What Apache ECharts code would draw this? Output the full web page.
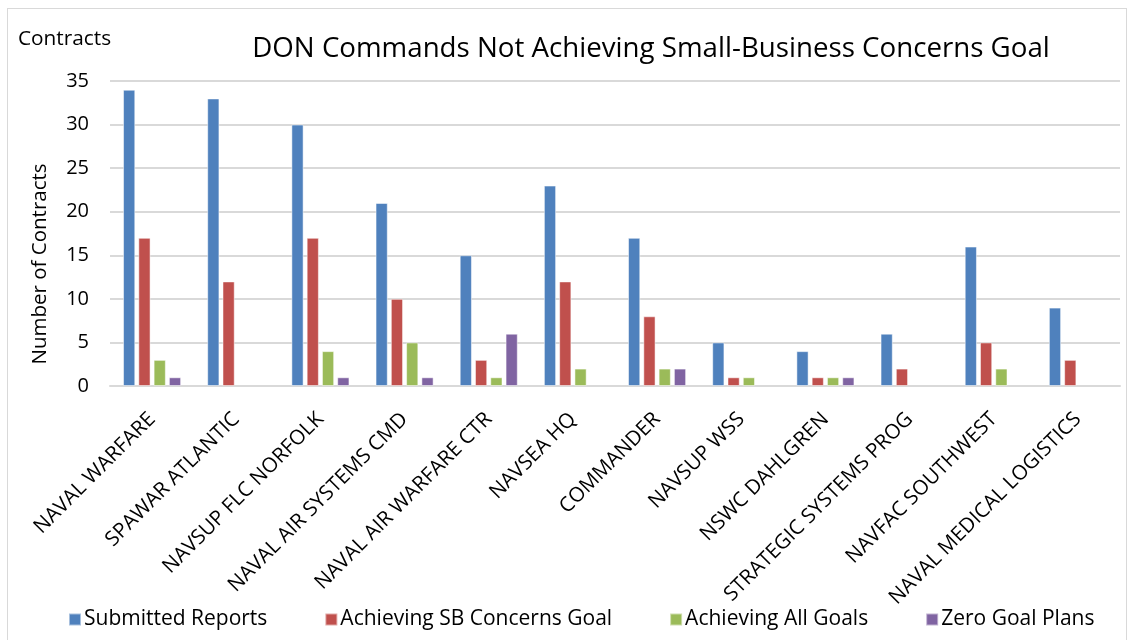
<!DOCTYPE html>
<html><head><meta charset="utf-8">
<script src="https://cdn.jsdelivr.net/npm/echarts@6/dist/echarts.min.js"></script>
<style>
html,body{margin:0;padding:0;background:#fff;}
#frame{position:absolute;left:7px;top:8px;width:1120px;height:640px;border:1px solid #d9d9d9;box-sizing:border-box;}
#c{position:absolute;left:0;top:0;width:1134px;height:640px;}
</style></head>
<body>
<div id="frame"></div>
<div id="c"></div>
<script>
const categories = ["NAVAL WARFARE","SPAWAR ATLANTIC","NAVSUP FLC NORFOLK","NAVAL AIR SYSTEMS CMD","NAVAL AIR WARFARE CTR","NAVSEA HQ","COMMANDER","NAVSUP WSS","NSWC DAHLGREN","STRATEGIC SYSTEMS PROG","NAVFAC SOUTHWEST","NAVAL MEDICAL LOGISTICS"];
const submittedReports = [34,33,30,21,15,23,17,5,4,6,16,9];
const achievingSBGoal = [17,12,17,10,3,12,8,1,1,2,5,3];
const achievingAllGoals = [3,0,4,5,1,2,2,1,1,0,2,0];
const zeroGoalPlans = [1,0,1,1,6,0,2,0,1,0,0,0];
const yTicks = [0,5,10,15,20,25,30,35];

const FONT = '"Open Sans"';
const chart = echarts.init(document.getElementById('c'), null, {renderer:'canvas'});
function ser(name, data, color){
  return {name, type:'bar', data: data.map(v => v === 0 ? null : v),
    itemStyle:{color, borderColor:'rgba(255,255,255,0.5)', borderWidth:1},
    barGap:'25%', barCategoryGap:'31%'};
}
chart.setOption({
  animation:false,
  textStyle:{fontFamily:FONT},
  title:{text:'DON Commands Not Achieving Small-Business Concerns Goal', left:646, textAlign:'center', top:30,
    textStyle:{fontFamily:FONT, fontSize:27.7, fontWeight:'normal', color:'#000'}},
  graphic:[
    {type:'text', left:18, top:29, style:{text:'Contracts', font:'20.8px '+FONT, fill:'#000'}},
    {type:'text', x:40, y:264, rotation:Math.PI/2,
      style:{text:'Number of Contracts', font:'20.5px '+FONT, fill:'#000', textAlign:'center', textVerticalAlign:'middle'}}
  ],
  legend:{bottom:5, left:63, itemWidth:12, itemHeight:12, icon:'rect', itemGap:57,
    textStyle:{fontFamily:FONT, fontSize:21, color:'#000', padding:[0,0,0,-2]}},
  grid:{left:110, right:14, top:81, bottom:254},
  xAxis:{type:'category', data:categories,
    axisLine:{lineStyle:{color:'#d9d9d9', width:2}}, axisTick:{show:false},
    axisLabel:{rotate:45, interval:0, margin:30, fontFamily:FONT, fontSize:20.5, color:'#000'}},
  yAxis:{type:'value', min:yTicks[0], max:yTicks[yTicks.length-1], interval:5,
    axisLine:{show:false}, axisTick:{show:false},
    axisLabel:{fontFamily:FONT, fontSize:20, color:'#000', margin:21},
    splitLine:{lineStyle:{color:'#d9d9d9', width:2}}},
  series:[
    ser('Submitted Reports', submittedReports, '#4F81BD'),
    ser('Achieving SB Concerns Goal', achievingSBGoal, '#C0504D'),
    ser('Achieving All Goals', achievingAllGoals, '#9BBB59'),
    ser('Zero Goal Plans', zeroGoalPlans, '#8064A2')
  ]
});
</script>
</body></html>
